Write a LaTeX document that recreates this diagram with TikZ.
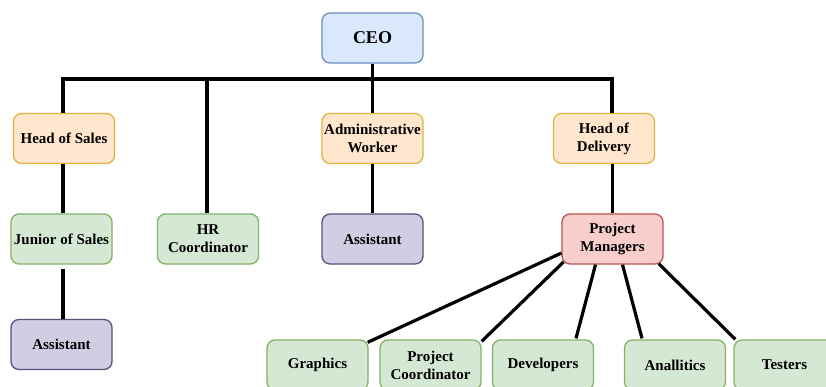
\documentclass[tikz,border=0pt]{standalone}
\usepackage{fontspec}
\setmainfont{Liberation Serif}
\usetikzlibrary{calc}
\definecolor{bluef}{HTML}{DAE8FC}\definecolor{blued}{HTML}{6C8EBF}
\definecolor{orgf}{HTML}{FFE6CC}\definecolor{orgd}{HTML}{D79B00}
\definecolor{grnf}{HTML}{D5E8D4}\definecolor{grnd}{HTML}{82B366}
\definecolor{purf}{HTML}{D0CEE2}\definecolor{purd}{HTML}{56517E}
\definecolor{redf}{HTML}{F8CECC}\definecolor{redd}{HTML}{B85450}
\begin{document}
\begin{tikzpicture}[x=1pt,y=-1pt,
  box/.style={draw, rounded corners=8pt, line width=1.3pt, minimum width=101pt,
    minimum height=50pt, inner sep=0pt, align=center,
    font=\fontsize{15}{18}\selectfont\bfseries},
  ceobox/.style={box, fill=bluef, draw=blued, font=\fontsize{18}{22}\selectfont\bfseries},
  orgbox/.style={box, fill=orgf, draw=orgd!75},
  grnbox/.style={box, fill=grnf, draw=grnd},
  purbox/.style={box, fill=purf, draw=purd},
  redbox/.style={box, fill=redf, draw=redd},
  conn/.style={line width=3.2pt, black}]
\useasboundingbox (0,0) rectangle (826,387);
\clip (0,0) rectangle (826,387);
\fill[white] (0,0) rectangle (826,387);

\node[ceobox] (ceo) at (372.5,38) {CEO};
\node[orgbox] (hos) at (64,138.5) {Head of Sales};
\node[orgbox] (adm) at (372.5,138.5) {Administrative\\Worker};
\node[orgbox] (hd)  at (604,138.5) {Head of\\Delivery};
\node[grnbox] (jos) at (61.5,239) {Junior of Sales};
\node[grnbox] (hr)  at (208,239) {HR\\Coordinator};
\node[purbox] (as2) at (372.5,239) {Assistant};
\node[redbox] (pm)  at (612.5,239) {Project\\Managers};
\node[purbox] (as1) at (61.5,344.5) {Assistant};
\node[grnbox] (gr)  at (317.5,365) {Graphics};
\node[grnbox] (pc)  at (430.5,365) {Project\\Coordinator};
\node[grnbox] (dev) at (543,365) {Developers};
\node[grnbox] (an)  at (675,365) {Anallitics};
\node[grnbox] (te)  at (784.5,365) {Testers};

\coordinate (busL) at (63,79);
\coordinate (busH) at (207,79);
\coordinate (busR) at (612,79);

\draw[conn] (ceo.south) -- (ceo.south |- busL);
\draw[conn] (hos.north -| busL) -- (busL) -- (busR) -- (hd.north -| busR);
\draw[conn] (busH) -- (hr.north -| busH);
\draw[conn] (ceo.south |- busL) -- (adm.north);
\draw[conn] (adm.south) -- (as2.north);
\draw[conn] (hos.south -| busL) -- (jos.north -| busL);
\draw[conn] ($(jos.south -| busL)+(0,4)$) -- (as1.north -| busL);
\draw[conn] (hd.south -| pm.north) -- (pm.north);

\draw[conn] ($(pm.center)+(-51,14)$) -- ($(gr.north east)+(-1,3)$);
\draw[conn] ($(pm.center)+(-49,23)$) -- ($(pc.north east)+(0,2)$);
\draw[conn] ($(pm.south)+(-17,0)$) -- ($(dev.north)+(33,-1)$);
\draw[conn] ($(pm.south)+(10,0)$) -- ($(an.north)+(-33,-1)$);
\draw[conn] ($(pm.south east)+(-5,-1)$) -- ($(te.north west)+(2,0)$);
\end{tikzpicture}
\end{document}
